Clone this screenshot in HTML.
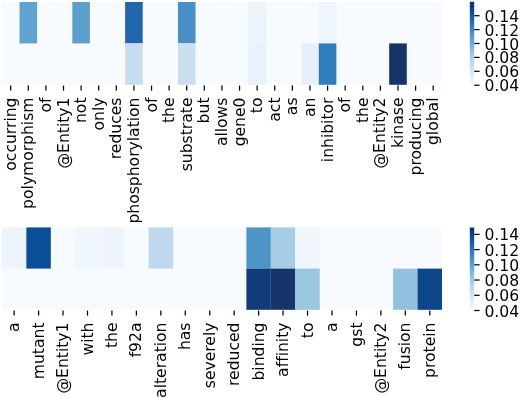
<!DOCTYPE html>
<html><head><meta charset="utf-8"><title>heatmap</title>
<style>html,body{margin:0;padding:0;background:#fff}svg{display:block}
text{font-family:"DejaVu Sans","Liberation Sans",sans-serif;font-size:15.6px;fill:#000;font-variant-ligatures:none}</style></head>
<body><svg width="520" height="398" viewBox="0 0 520 398">
<defs><linearGradient id="blues" x1="0" y1="1" x2="0" y2="0"><stop offset="0.000" stop-color="#f7fbff"/><stop offset="0.125" stop-color="#deebf7"/><stop offset="0.250" stop-color="#c6dbef"/><stop offset="0.375" stop-color="#9ecae1"/><stop offset="0.500" stop-color="#6baed6"/><stop offset="0.625" stop-color="#4292c6"/><stop offset="0.750" stop-color="#2171b5"/><stop offset="0.875" stop-color="#08519c"/><stop offset="1.000" stop-color="#08306b"/></linearGradient></defs>
<rect width="520" height="398" fill="#fff"/>
<g opacity="0.999">
<rect x="1.9" y="2.0" width="440.1" height="82.8" fill="#f7fbff"/>
<rect x="19.50" y="2.00" width="17.60" height="41.40" fill="#5fa3d0"/>
<rect x="72.32" y="2.00" width="17.60" height="41.40" fill="#5c9fcd"/>
<rect x="125.13" y="2.00" width="17.60" height="41.40" fill="#2166ac"/>
<rect x="177.94" y="2.00" width="17.60" height="41.40" fill="#4a8fc3"/>
<rect x="248.36" y="2.00" width="17.60" height="41.40" fill="#ebf3fb"/>
<rect x="318.77" y="2.00" width="17.60" height="41.40" fill="#eef5fc"/>
<rect x="125.13" y="43.40" width="17.60" height="41.40" fill="#c8dcef"/>
<rect x="177.94" y="43.40" width="17.60" height="41.40" fill="#cadef0"/>
<rect x="248.36" y="43.40" width="17.60" height="41.40" fill="#e9f2fa"/>
<rect x="301.17" y="43.40" width="17.60" height="41.40" fill="#e6f0f9"/>
<rect x="318.77" y="43.40" width="17.60" height="41.40" fill="#2f7ebb"/>
<rect x="389.19" y="43.40" width="17.60" height="41.40" fill="#18326a"/>
<line x1="10.70" x2="10.70" y1="85.60" y2="90.60" stroke="#000" stroke-width="1.25"/>
<text transform="translate(15.80,97.5) rotate(-90) scale(1,0.975)" text-anchor="end">occurring</text>
<line x1="28.31" x2="28.31" y1="85.60" y2="90.60" stroke="#000" stroke-width="1.25"/>
<text transform="translate(33.41,97.5) rotate(-90) scale(1,0.975)" text-anchor="end">polymorphism</text>
<line x1="45.91" x2="45.91" y1="85.60" y2="90.60" stroke="#000" stroke-width="1.25"/>
<text transform="translate(51.01,97.5) rotate(-90) scale(1,0.975)" text-anchor="end">of</text>
<line x1="63.51" x2="63.51" y1="85.60" y2="90.60" stroke="#000" stroke-width="1.25"/>
<text transform="translate(68.61,97.5) rotate(-90) scale(1,0.975)" text-anchor="end">@Entity1</text>
<line x1="81.12" x2="81.12" y1="85.60" y2="90.60" stroke="#000" stroke-width="1.25"/>
<text transform="translate(86.22,97.5) rotate(-90) scale(1,0.975)" text-anchor="end">not</text>
<line x1="98.72" x2="98.72" y1="85.60" y2="90.60" stroke="#000" stroke-width="1.25"/>
<text transform="translate(103.82,97.5) rotate(-90) scale(1,0.975)" text-anchor="end">only</text>
<line x1="116.33" x2="116.33" y1="85.60" y2="90.60" stroke="#000" stroke-width="1.25"/>
<text transform="translate(121.43,97.5) rotate(-90) scale(1,0.975)" text-anchor="end">reduces</text>
<line x1="133.93" x2="133.93" y1="85.60" y2="90.60" stroke="#000" stroke-width="1.25"/>
<text transform="translate(139.03,97.5) rotate(-90) scale(1,0.975)" text-anchor="end">phosphorylation</text>
<line x1="151.53" x2="151.53" y1="85.60" y2="90.60" stroke="#000" stroke-width="1.25"/>
<text transform="translate(156.63,97.5) rotate(-90) scale(1,0.975)" text-anchor="end">of</text>
<line x1="169.14" x2="169.14" y1="85.60" y2="90.60" stroke="#000" stroke-width="1.25"/>
<text transform="translate(174.24,97.5) rotate(-90) scale(1,0.975)" text-anchor="end">the</text>
<line x1="186.74" x2="186.74" y1="85.60" y2="90.60" stroke="#000" stroke-width="1.25"/>
<text transform="translate(191.84,97.5) rotate(-90) scale(1,0.975)" text-anchor="end">substrate</text>
<line x1="204.35" x2="204.35" y1="85.60" y2="90.60" stroke="#000" stroke-width="1.25"/>
<text transform="translate(209.45,97.5) rotate(-90) scale(1,0.975)" text-anchor="end">but</text>
<line x1="221.95" x2="221.95" y1="85.60" y2="90.60" stroke="#000" stroke-width="1.25"/>
<text transform="translate(227.05,97.5) rotate(-90) scale(1,0.975)" text-anchor="end">allows</text>
<line x1="239.55" x2="239.55" y1="85.60" y2="90.60" stroke="#000" stroke-width="1.25"/>
<text transform="translate(244.65,97.5) rotate(-90) scale(1,0.975)" text-anchor="end">gene0</text>
<line x1="257.16" x2="257.16" y1="85.60" y2="90.60" stroke="#000" stroke-width="1.25"/>
<text transform="translate(262.26,97.5) rotate(-90) scale(1,0.975)" text-anchor="end">to</text>
<line x1="274.76" x2="274.76" y1="85.60" y2="90.60" stroke="#000" stroke-width="1.25"/>
<text transform="translate(279.86,97.5) rotate(-90) scale(1,0.975)" text-anchor="end">act</text>
<line x1="292.37" x2="292.37" y1="85.60" y2="90.60" stroke="#000" stroke-width="1.25"/>
<text transform="translate(297.47,97.5) rotate(-90) scale(1,0.975)" text-anchor="end">as</text>
<line x1="309.97" x2="309.97" y1="85.60" y2="90.60" stroke="#000" stroke-width="1.25"/>
<text transform="translate(315.07,97.5) rotate(-90) scale(1,0.975)" text-anchor="end">an</text>
<line x1="327.57" x2="327.57" y1="85.60" y2="90.60" stroke="#000" stroke-width="1.25"/>
<text transform="translate(332.67,97.5) rotate(-90) scale(1,0.975)" text-anchor="end">inhibitor</text>
<line x1="345.18" x2="345.18" y1="85.60" y2="90.60" stroke="#000" stroke-width="1.25"/>
<text transform="translate(350.28,97.5) rotate(-90) scale(1,0.975)" text-anchor="end">of</text>
<line x1="362.78" x2="362.78" y1="85.60" y2="90.60" stroke="#000" stroke-width="1.25"/>
<text transform="translate(367.88,97.5) rotate(-90) scale(1,0.975)" text-anchor="end">the</text>
<line x1="380.39" x2="380.39" y1="85.60" y2="90.60" stroke="#000" stroke-width="1.25"/>
<text transform="translate(385.49,97.5) rotate(-90) scale(1,0.975)" text-anchor="end">@Entity2</text>
<line x1="397.99" x2="397.99" y1="85.60" y2="90.60" stroke="#000" stroke-width="1.25"/>
<text transform="translate(403.09,97.5) rotate(-90) scale(1,0.975)" text-anchor="end">kinase</text>
<line x1="415.59" x2="415.59" y1="85.60" y2="90.60" stroke="#000" stroke-width="1.25"/>
<text transform="translate(420.69,97.5) rotate(-90) scale(1,0.975)" text-anchor="end">producing</text>
<line x1="433.20" x2="433.20" y1="85.60" y2="90.60" stroke="#000" stroke-width="1.25"/>
<text transform="translate(438.30,97.5) rotate(-90) scale(1,0.975)" text-anchor="end">global</text>
<rect x="469.8" y="1.8" width="4.399999999999977" height="83.4" fill="url(#blues)"/>
<line x1="474.2" x2="479.59999999999997" y1="85.20" y2="85.20" stroke="#000" stroke-width="1.25"/>
<text x="484.4" y="91.20">0.04</text>
<line x1="474.2" x2="479.59999999999997" y1="71.30" y2="71.30" stroke="#000" stroke-width="1.25"/>
<text x="484.4" y="77.30">0.06</text>
<line x1="474.2" x2="479.59999999999997" y1="57.40" y2="57.40" stroke="#000" stroke-width="1.25"/>
<text x="484.4" y="63.40">0.08</text>
<line x1="474.2" x2="479.59999999999997" y1="43.50" y2="43.50" stroke="#000" stroke-width="1.25"/>
<text x="484.4" y="49.50">0.10</text>
<line x1="474.2" x2="479.59999999999997" y1="29.60" y2="29.60" stroke="#000" stroke-width="1.25"/>
<text x="484.4" y="35.60">0.12</text>
<line x1="474.2" x2="479.59999999999997" y1="15.70" y2="15.70" stroke="#000" stroke-width="1.25"/>
<text x="484.4" y="21.70">0.14</text>
<rect x="1.9" y="227.4" width="440.1" height="82.4" fill="#f7fbff"/>
<rect x="1.90" y="227.40" width="24.45" height="41.20" fill="#edf4fc"/>
<rect x="26.35" y="227.40" width="24.45" height="41.20" fill="#0a4f98"/>
<rect x="75.25" y="227.40" width="24.45" height="41.20" fill="#f0f6fd"/>
<rect x="99.70" y="227.40" width="24.45" height="41.20" fill="#edf4fc"/>
<rect x="148.60" y="227.40" width="24.45" height="41.20" fill="#bfd8ed"/>
<rect x="246.40" y="227.40" width="24.45" height="41.20" fill="#4f94c6"/>
<rect x="270.85" y="227.40" width="24.45" height="41.20" fill="#a6cde4"/>
<rect x="295.30" y="227.40" width="24.45" height="41.20" fill="#eff6fc"/>
<rect x="246.40" y="268.60" width="24.45" height="41.20" fill="#113a7a"/>
<rect x="270.85" y="268.60" width="24.45" height="41.20" fill="#18326a"/>
<rect x="295.30" y="268.60" width="24.45" height="41.20" fill="#9bc6e0"/>
<rect x="393.10" y="268.60" width="24.45" height="41.20" fill="#93c2de"/>
<rect x="417.55" y="268.60" width="24.45" height="41.20" fill="#0c468b"/>
<line x1="14.13" x2="14.13" y1="310.60" y2="315.60" stroke="#000" stroke-width="1.25"/>
<text transform="translate(19.23,322.5) rotate(-90) scale(1,0.975)" text-anchor="end">a</text>
<line x1="38.58" x2="38.58" y1="310.60" y2="315.60" stroke="#000" stroke-width="1.25"/>
<text transform="translate(43.68,322.5) rotate(-90) scale(1,0.975)" text-anchor="end">mutant</text>
<line x1="63.03" x2="63.03" y1="310.60" y2="315.60" stroke="#000" stroke-width="1.25"/>
<text transform="translate(68.12,322.5) rotate(-90) scale(1,0.975)" text-anchor="end">@Entity1</text>
<line x1="87.48" x2="87.48" y1="310.60" y2="315.60" stroke="#000" stroke-width="1.25"/>
<text transform="translate(92.58,322.5) rotate(-90) scale(1,0.975)" text-anchor="end">with</text>
<line x1="111.93" x2="111.93" y1="310.60" y2="315.60" stroke="#000" stroke-width="1.25"/>
<text transform="translate(117.03,322.5) rotate(-90) scale(1,0.975)" text-anchor="end">the</text>
<line x1="136.38" x2="136.38" y1="310.60" y2="315.60" stroke="#000" stroke-width="1.25"/>
<text transform="translate(141.48,322.5) rotate(-90) scale(1,0.975)" text-anchor="end">f92a</text>
<line x1="160.83" x2="160.83" y1="310.60" y2="315.60" stroke="#000" stroke-width="1.25"/>
<text transform="translate(165.93,322.5) rotate(-90) scale(1,0.975)" text-anchor="end">alteration</text>
<line x1="185.28" x2="185.28" y1="310.60" y2="315.60" stroke="#000" stroke-width="1.25"/>
<text transform="translate(190.38,322.5) rotate(-90) scale(1,0.975)" text-anchor="end">has</text>
<line x1="209.73" x2="209.73" y1="310.60" y2="315.60" stroke="#000" stroke-width="1.25"/>
<text transform="translate(214.83,322.5) rotate(-90) scale(1,0.975)" text-anchor="end">severely</text>
<line x1="234.18" x2="234.18" y1="310.60" y2="315.60" stroke="#000" stroke-width="1.25"/>
<text transform="translate(239.28,322.5) rotate(-90) scale(1,0.975)" text-anchor="end">reduced</text>
<line x1="258.62" x2="258.62" y1="310.60" y2="315.60" stroke="#000" stroke-width="1.25"/>
<text transform="translate(263.73,322.5) rotate(-90) scale(1,0.975)" text-anchor="end">binding</text>
<line x1="283.07" x2="283.07" y1="310.60" y2="315.60" stroke="#000" stroke-width="1.25"/>
<text transform="translate(288.18,322.5) rotate(-90) scale(1,0.975)" text-anchor="end">affinity</text>
<line x1="307.53" x2="307.53" y1="310.60" y2="315.60" stroke="#000" stroke-width="1.25"/>
<text transform="translate(312.63,322.5) rotate(-90) scale(1,0.975)" text-anchor="end">to</text>
<line x1="331.98" x2="331.98" y1="310.60" y2="315.60" stroke="#000" stroke-width="1.25"/>
<text transform="translate(337.08,322.5) rotate(-90) scale(1,0.975)" text-anchor="end">a</text>
<line x1="356.43" x2="356.43" y1="310.60" y2="315.60" stroke="#000" stroke-width="1.25"/>
<text transform="translate(361.53,322.5) rotate(-90) scale(1,0.975)" text-anchor="end">gst</text>
<line x1="380.88" x2="380.88" y1="310.60" y2="315.60" stroke="#000" stroke-width="1.25"/>
<text transform="translate(385.98,322.5) rotate(-90) scale(1,0.975)" text-anchor="end">@Entity2</text>
<line x1="405.33" x2="405.33" y1="310.60" y2="315.60" stroke="#000" stroke-width="1.25"/>
<text transform="translate(410.43,322.5) rotate(-90) scale(1,0.975)" text-anchor="end">fusion</text>
<line x1="429.78" x2="429.78" y1="310.60" y2="315.60" stroke="#000" stroke-width="1.25"/>
<text transform="translate(434.88,322.5) rotate(-90) scale(1,0.975)" text-anchor="end">protein</text>
<rect x="469.8" y="227.5" width="4.399999999999977" height="83.0" fill="url(#blues)"/>
<line x1="474.2" x2="479.59999999999997" y1="310.50" y2="310.50" stroke="#000" stroke-width="1.25"/>
<text x="484.4" y="316.50">0.04</text>
<line x1="474.2" x2="479.59999999999997" y1="295.27" y2="295.27" stroke="#000" stroke-width="1.25"/>
<text x="484.4" y="301.27">0.06</text>
<line x1="474.2" x2="479.59999999999997" y1="280.04" y2="280.04" stroke="#000" stroke-width="1.25"/>
<text x="484.4" y="286.04">0.08</text>
<line x1="474.2" x2="479.59999999999997" y1="264.81" y2="264.81" stroke="#000" stroke-width="1.25"/>
<text x="484.4" y="270.81">0.10</text>
<line x1="474.2" x2="479.59999999999997" y1="249.58" y2="249.58" stroke="#000" stroke-width="1.25"/>
<text x="484.4" y="255.58">0.12</text>
<line x1="474.2" x2="479.59999999999997" y1="234.35" y2="234.35" stroke="#000" stroke-width="1.25"/>
<text x="484.4" y="240.35">0.14</text>
</g>
</svg></body></html>
